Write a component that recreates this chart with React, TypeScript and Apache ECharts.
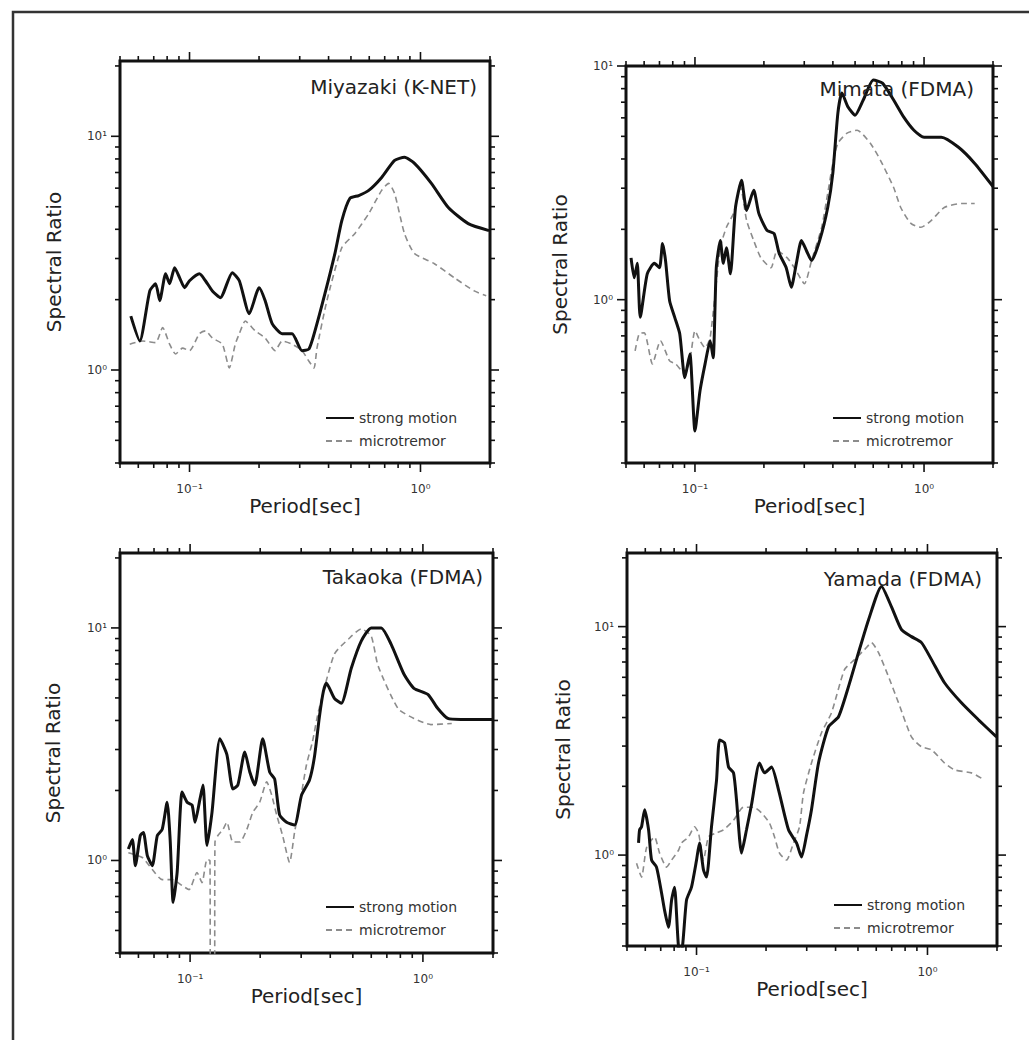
import React, { useEffect, useRef } from "react";
import * as echarts from "echarts";

const FONT = '"DejaVu Sans", "Liberation Sans", sans-serif';

// ---------- tick values & labels ----------
const X_RANGE = [0.05, 2];
const X_MAJOR = [0.1, 1];
const X_MINOR = [0.05, 0.06, 0.07, 0.08, 0.09, 0.2, 0.3, 0.4, 0.5, 0.6, 0.7, 0.8, 0.9, 2];
const Y_MAJOR = [1, 10];
const Y_MINOR_A = [0.4, 0.5, 0.6, 0.7, 0.8, 0.9, 2, 3, 4, 5, 6, 7, 8, 9, 20];
const Y_MINOR_B = [0.2, 0.3, 0.4, 0.5, 0.6, 0.7, 0.8, 0.9, 2, 3, 4, 5, 6, 7, 8, 9];
const X_TICK_LABELS: Record<string, string> = { "-1": "10\u207B\u00B9", "0": "10\u2070" };
const Y_TICK_LABELS: Record<string, string> = { "0": "10\u2070", "1": "10\u00B9" };

const TITLES = ["Miyazaki (K-NET)", "Mimata (FDMA)", "Takaoka (FDMA)", "Yamada (FDMA)"];
const SERIES_NAMES = ["strong motion", "microtremor"];
const X_NAME = "Period[sec]";
const Y_NAME = "Spectral Ratio";

// ---------- data: [period (s), spectral ratio] ----------
const MIYAZAKI_STRONG = [
  [0.0557, 1.7], [0.0609, 1.33], [0.0673, 2.18], [0.0713, 2.34], [0.0743, 1.98], [0.0788, 2.58],
  [0.082, 2.34], [0.0862, 2.74], [0.0906, 2.48], [0.0952, 2.25], [0.1, 2.41], [0.1104, 2.58],
  [0.1172, 2.41], [0.1256, 2.18], [0.136, 2.04], [0.1532, 2.61], [0.1643, 2.41], [0.1814, 1.74],
  [0.2003, 2.25], [0.2126, 1.98], [0.2279, 1.58], [0.2517, 1.43], [0.278, 1.43], [0.3069, 1.21],
  [0.329, 1.23], [0.3493, 1.47], [0.3857, 2.12], [0.426, 3.15], [0.4565, 4.36], [0.4943, 5.42],
  [0.5405, 5.58], [0.597, 5.87], [0.679, 6.67], [0.7727, 7.89], [0.853, 8.13], [0.942, 7.66],
  [1.115, 6.29], [1.32, 4.96], [1.61, 4.23], [1.98, 3.95],
];
const MIYAZAKI_MICRO = [
  [0.0551, 1.29], [0.0627, 1.33], [0.0713, 1.31], [0.0765, 1.52], [0.082, 1.29], [0.087, 1.17],
  [0.0933, 1.24], [0.1, 1.21], [0.1104, 1.43], [0.1172, 1.47], [0.1256, 1.37], [0.1387, 1.29],
  [0.1487, 1.02], [0.1578, 1.29], [0.1643, 1.43], [0.1743, 1.62], [0.1926, 1.47], [0.2126, 1.37],
  [0.2348, 1.21], [0.2517, 1.33], [0.278, 1.29], [0.3069, 1.21], [0.329, 1.09], [0.3459, 1.02],
  [0.3563, 1.24], [0.3934, 1.98], [0.4565, 3.34], [0.5193, 3.83], [0.597, 4.67], [0.679, 5.87],
  [0.728, 6.29], [0.7727, 5.69], [0.853, 3.83], [0.942, 3.15], [1.149, 2.85], [1.402, 2.48],
  [1.709, 2.18], [1.926, 2.08],
];
const MIMATA_STRONG = [
  [0.0526, 1.51], [0.0543, 1.24], [0.056, 1.43], [0.0577, 0.84], [0.0619, 1.29], [0.0665, 1.43],
  [0.07, 1.37], [0.0722, 1.74], [0.0744, 1.47], [0.0775, 0.99], [0.0816, 0.84], [0.0858, 0.715],
  [0.0903, 0.463], [0.095, 0.586], [0.1, 0.274], [0.1052, 0.407], [0.1107, 0.531], [0.1165, 0.667],
  [0.1201, 0.564], [0.1239, 1.37], [0.129, 1.79], [0.133, 1.43], [0.1372, 1.67], [0.1428, 1.29],
  [0.1503, 2.48], [0.1597, 3.24], [0.1681, 2.41], [0.1805, 2.94], [0.19, 2.34], [0.2062, 1.98],
  [0.2214, 1.92], [0.233, 1.58], [0.2502, 1.37], [0.2633, 1.13], [0.2771, 1.43], [0.2916, 1.79],
  [0.3068, 1.62], [0.3228, 1.47], [0.3501, 1.79], [0.3798, 2.48], [0.3997, 3.47], [0.4206, 6.29],
  [0.4381, 7.66], [0.4658, 6.67], [0.5, 6.16], [0.5427, 7.15], [0.6009, 8.71], [0.6586, 8.45],
  [0.7368, 7.15], [0.8157, 6.04], [0.9033, 5.31], [1.0, 4.96], [1.189, 4.96], [1.414, 4.49],
  [1.664, 3.83], [2.0, 3.05],
];
const MIMATA_MICRO = [
  [0.0548, 0.604], [0.0571, 0.715], [0.0601, 0.722], [0.0652, 0.531], [0.0707, 0.667], [0.0775, 0.547],
  [0.0824, 0.531], [0.0903, 0.481], [0.095, 0.547], [0.1, 0.736], [0.1052, 0.667], [0.1107, 0.622],
  [0.1165, 0.687], [0.129, 1.67], [0.1372, 2.04], [0.1473, 2.34], [0.1581, 3.02], [0.1681, 2.18],
  [0.1805, 1.79], [0.194, 1.51], [0.2147, 1.37], [0.2283, 1.62], [0.2528, 1.51], [0.2715, 1.37],
  [0.3006, 1.17], [0.3228, 1.47], [0.3573, 2.04], [0.3798, 2.85], [0.3997, 3.83], [0.4206, 4.67],
  [0.4611, 5.16], [0.5105, 5.31], [0.5829, 4.67], [0.6452, 3.95], [0.7368, 3.02], [0.7911, 2.48],
  [0.876, 2.12], [0.9699, 2.04], [1.074, 2.18], [1.226, 2.48], [1.458, 2.58], [1.664, 2.58],
];
const TAKAOKA_STRONG = [
  [0.0543, 1.12], [0.0565, 1.23], [0.0582, 0.95], [0.0611, 1.28], [0.063, 1.32], [0.0655, 1.05],
  [0.0688, 0.95], [0.0723, 1.28], [0.0759, 1.36], [0.0797, 1.78], [0.0821, 1.23], [0.0846, 0.66],
  [0.088, 0.89], [0.0924, 1.97], [0.0971, 1.78], [0.102, 1.73], [0.105, 1.46], [0.1103, 1.84],
  [0.1136, 2.11], [0.1182, 1.16], [0.1242, 1.61], [0.1343, 3.34], [0.1439, 2.85], [0.1527, 2.03],
  [0.1604, 2.11], [0.1718, 2.93], [0.1805, 2.4], [0.1896, 2.11], [0.2051, 3.34], [0.2197, 2.4],
  [0.2308, 2.24], [0.2424, 1.57], [0.2597, 1.46], [0.281, 1.42], [0.3011, 1.91], [0.3257, 2.22],
  [0.3421, 2.79], [0.3594, 4.16], [0.3738, 5.34], [0.385, 5.78], [0.4166, 4.98], [0.4462, 4.74],
  [0.4924, 6.71], [0.5433, 8.78], [0.5995, 10.0], [0.6615, 10.0], [0.7298, 8.52], [0.8294, 6.32],
  [0.9152, 5.5], [1.05, 5.18], [1.159, 4.5], [1.279, 4.08], [1.453, 4.04], [2.0, 4.04],
];
const TAKAOKA_MICRO = [
  [0.0543, 1.08], [0.0623, 1.03], [0.0688, 0.914], [0.0759, 0.827], [0.0838, 0.827], [0.0924, 0.78],
  [0.099, 0.749], [0.1071, 0.887], [0.1125, 0.803], [0.1182, 1.01], [0.1217, 1.0], [0.1223, 0.25],
  [0.1273, 0.25], [0.1279, 1.2], [0.1317, 1.28], [0.1384, 1.36], [0.1439, 1.46], [0.1527, 1.2],
  [0.1636, 1.2], [0.1753, 1.36], [0.1859, 1.61], [0.1991, 1.78], [0.2134, 2.18], [0.2241, 1.91],
  [0.2354, 1.57], [0.2497, 1.28], [0.2675, 0.98], [0.281, 1.32], [0.2952, 1.73], [0.3162, 2.58],
  [0.3354, 3.24], [0.3558, 4.37], [0.4166, 7.72], [0.4793, 8.96], [0.5433, 9.9], [0.5995, 9.23],
  [0.6424, 6.85], [0.782, 4.5], [0.9152, 4.08], [1.082, 3.84], [1.33, 3.88],
];
const YAMADA_STRONG = [
  [0.0561, 1.13], [0.0567, 1.29], [0.0578, 1.33], [0.0596, 1.58], [0.062, 1.29], [0.0639, 0.95],
  [0.0671, 0.886], [0.0706, 0.681], [0.0727, 0.574], [0.0756, 0.483], [0.078, 0.635], [0.0803, 0.724],
  [0.0836, 0.395], [0.0861, 0.38], [0.0905, 0.635], [0.0951, 0.724], [0.1, 0.95], [0.103, 1.13],
  [0.1072, 0.86], [0.1105, 0.801], [0.1161, 1.33], [0.1221, 2.13], [0.1258, 3.19], [0.1322, 3.1],
  [0.1376, 2.43], [0.1446, 2.29], [0.149, 1.74], [0.1566, 1.02], [0.1646, 1.29], [0.173, 1.66],
  [0.1874, 2.53], [0.197, 2.29], [0.2112, 2.43], [0.2265, 1.93], [0.2502, 1.29], [0.271, 1.13],
  [0.2848, 0.98], [0.2994, 1.22], [0.3146, 1.58], [0.3374, 2.53], [0.3728, 3.64], [0.4119, 4.03],
  [0.455, 5.46], [0.5027, 7.69], [0.5555, 10.7], [0.6324, 15.0], [0.6987, 12.2], [0.7718, 9.7],
  [0.8524, 9.04], [0.9419, 8.51], [1.041, 7.17], [1.185, 5.68], [1.403, 4.64], [1.663, 3.91], [1.99, 3.29],
];
const YAMADA_MICRO = [
  [0.055, 0.922], [0.0578, 0.801], [0.0608, 1.08], [0.0658, 1.2], [0.0692, 1.02], [0.0742, 0.886],
  [0.078, 0.951], [0.0836, 1.05], [0.0861, 1.13], [0.0923, 1.2], [0.098, 1.33], [0.102, 1.25],
  [0.1072, 0.951], [0.1127, 1.2], [0.1221, 1.25], [0.1309, 1.29], [0.1446, 1.42], [0.1598, 1.62],
  [0.1765, 1.62], [0.1911, 1.53], [0.207, 1.38], [0.2177, 1.2], [0.2287, 1.02], [0.2453, 0.951],
  [0.263, 1.13], [0.2792, 1.33], [0.2905, 1.87], [0.3146, 2.53], [0.3477, 3.43], [0.3841, 4.2],
  [0.4372, 6.48], [0.4831, 7.17], [0.5337, 7.93], [0.5724, 8.51], [0.6138, 7.69], [0.6781, 6.04],
  [0.7492, 4.64], [0.8524, 3.29], [0.9419, 2.98], [1.041, 2.89], [1.185, 2.53], [1.309, 2.36],
  [1.55, 2.29], [1.765, 2.13],
];

const STRONG = [MIYAZAKI_STRONG, MIMATA_STRONG, TAKAOKA_STRONG, YAMADA_STRONG];
const MICRO = [MIYAZAKI_MICRO, MIMATA_MICRO, TAKAOKA_MICRO, YAMADA_MICRO];
const Y_RANGES = [[0.4, 21], [0.2, 10], [0.4, 21], [0.4, 21]];
const Y_MINORS = [Y_MINOR_A, Y_MINOR_B, Y_MINOR_A, Y_MINOR_A];

// ---------- layout ----------
const LAYOUT = [
  { grid: { left: 120, top: 61, width: 370, height: 402 }, title: { right: 552, top: 77 }, legend: { left: 325, top: 411 }, xGap: 33, yGap: 56 },
  { grid: { left: 626, top: 66, width: 367, height: 397 }, title: { right: 55, top: 79 }, legend: { left: 832, top: 411 }, xGap: 33, yGap: 56 },
  { grid: { left: 120, top: 553, width: 373, height: 400 }, title: { right: 546, top: 567 }, legend: { left: 325, top: 900 }, xGap: 31, yGap: 57 },
  { grid: { left: 627, top: 553, width: 370, height: 393 }, title: { right: 47, top: 569 }, legend: { left: 833, top: 898 }, xGap: 30, yGap: 54 },
];

const INK = "#111";
const MICRO_COLOR = "#8c8c8c";
const MAJOR_LEN = 9;
const MINOR_LEN = 5;

function powerLabel(map: Record<string, string>) {
  return (v: number) => {
    const e = Math.log10(v);
    const r = Math.round(e);
    if (Math.abs(e - r) < 1e-6 && map[String(r)] !== undefined) return map[String(r)];
    return "";
  };
}

function xTickSeries(i: number, values: number[], len: number, yr: number[]) {
  return {
    type: "custom",
    xAxisIndex: i,
    yAxisIndex: i,
    silent: true,
    clip: false,
    z: 10,
    data: values.map((v) => [v, yr[0]]),
    renderItem: (params: any, api: any) => {
      const v = api.value(0);
      const b = api.coord([v, yr[0]]);
      const t = api.coord([v, yr[1]]);
      const st = { stroke: INK, lineWidth: 1.6 };
      return {
        type: "group",
        children: [
          { type: "line", shape: { x1: b[0], y1: b[1], x2: b[0], y2: b[1] + len }, style: st },
          { type: "line", shape: { x1: t[0], y1: t[1], x2: t[0], y2: t[1] - len }, style: st },
        ],
      };
    },
  };
}

function yTickSeries(i: number, values: number[], len: number) {
  return {
    type: "custom",
    xAxisIndex: i,
    yAxisIndex: i,
    silent: true,
    clip: false,
    z: 10,
    data: values.map((v) => [X_RANGE[0], v]),
    renderItem: (params: any, api: any) => {
      const v = api.value(1);
      const l = api.coord([X_RANGE[0], v]);
      const r = api.coord([X_RANGE[1], v]);
      const st = { stroke: INK, lineWidth: 1.6 };
      return {
        type: "group",
        children: [
          { type: "line", shape: { x1: l[0], y1: l[1], x2: l[0] - len, y2: l[1] }, style: st },
          { type: "line", shape: { x1: r[0], y1: r[1], x2: r[0] + len, y2: r[1] }, style: st },
        ],
      };
    },
  };
}

function buildOption() {
  const grid: any[] = [];
  const xAxis: any[] = [];
  const yAxis: any[] = [];
  const series: any[] = [];
  const title: any[] = [];
  const legend: any[] = [];

  LAYOUT.forEach((p, i) => {
    const yr = Y_RANGES[i];
    grid.push({ ...p.grid, show: true, borderColor: INK, borderWidth: 3, backgroundColor: "transparent", containLabel: false });
    xAxis.push({
      type: "log",
      logBase: 10,
      gridIndex: i,
      min: X_RANGE[0],
      max: X_RANGE[1],
      name: X_NAME,
      nameLocation: "middle",
      nameGap: p.xGap,
      nameTextStyle: { fontFamily: FONT, fontSize: 20, color: "#222" },
      axisLine: { show: false },
      axisTick: { show: false },
      splitLine: { show: false },
      minorTick: { show: false },
      axisLabel: { formatter: powerLabel(X_TICK_LABELS), fontFamily: FONT, fontSize: 12, color: "#333", margin: 20 },
    });
    yAxis.push({
      type: "log",
      logBase: 10,
      gridIndex: i,
      min: yr[0],
      max: yr[1],
      name: Y_NAME,
      nameLocation: "middle",
      nameRotate: 90,
      nameGap: p.yGap,
      nameTextStyle: { fontFamily: FONT, fontSize: 20, color: "#222" },
      axisLine: { show: false },
      axisTick: { show: false },
      splitLine: { show: false },
      minorTick: { show: false },
      axisLabel: { formatter: powerLabel(Y_TICK_LABELS), fontFamily: FONT, fontSize: 12, color: "#333", margin: 13 },
    });
    series.push({
      type: "line",
      name: SERIES_NAMES[1],
      xAxisIndex: i,
      yAxisIndex: i,
      data: MICRO[i],
      symbol: "none",
      showSymbol: false,
      smooth: 0.2,
      clip: true,
      z: 3,
      lineStyle: { color: MICRO_COLOR, width: 1.6, type: [6, 4] },
      itemStyle: { color: MICRO_COLOR },
    });
    series.push({
      type: "line",
      name: SERIES_NAMES[0],
      xAxisIndex: i,
      yAxisIndex: i,
      data: STRONG[i],
      symbol: "none",
      showSymbol: false,
      smooth: 0.2,
      clip: true,
      z: 4,
      lineStyle: { color: INK, width: 3 },
      itemStyle: { color: INK },
    });
    series.push(xTickSeries(i, X_MAJOR, MAJOR_LEN, yr));
    series.push(xTickSeries(i, X_MINOR, MINOR_LEN, yr));
    series.push(yTickSeries(i, Y_MAJOR, MAJOR_LEN));
    series.push(yTickSeries(i, Y_MINORS[i], MINOR_LEN));
    title.push({
      text: TITLES[i],
      right: p.title.right,
      top: p.title.top,
      padding: 0,
      textStyle: { fontFamily: FONT, fontSize: 20, fontWeight: "normal", color: "#222" },
    });
    legend.push({
      left: p.legend.left,
      top: p.legend.top,
      orient: "vertical",
      align: "left",
      itemWidth: 28,
      itemHeight: 14,
      itemGap: 9,
      padding: 0,
      selectedMode: false,
      data: SERIES_NAMES,
      itemStyle: { opacity: 0, borderWidth: 0 },
      textStyle: { fontFamily: FONT, fontSize: 14, color: "#333" },
    });
  });

  return {
    animation: false,
    backgroundColor: "#fff",
    grid,
    xAxis,
    yAxis,
    series,
    title,
    legend,
    graphic: [
      {
        type: "polyline",
        silent: true,
        shape: { points: [[13, 1040], [13, 12], [1029, 12]] },
        style: { stroke: "#333", lineWidth: 2.5, fill: null },
      },
    ],
  };
}

export default function App() {
  const ref = useRef<HTMLDivElement>(null);
  useEffect(() => {
    if (!ref.current) return;
    const chart = echarts.init(ref.current, null, { renderer: "svg" });
    chart.setOption(buildOption() as any);
    return () => chart.dispose();
  }, []);
  return (
    <div
      ref={ref}
      style={{ position: "absolute", left: 0, top: 0, width: 1029, height: 1040, background: "#fff" }}
    />
  );
}
